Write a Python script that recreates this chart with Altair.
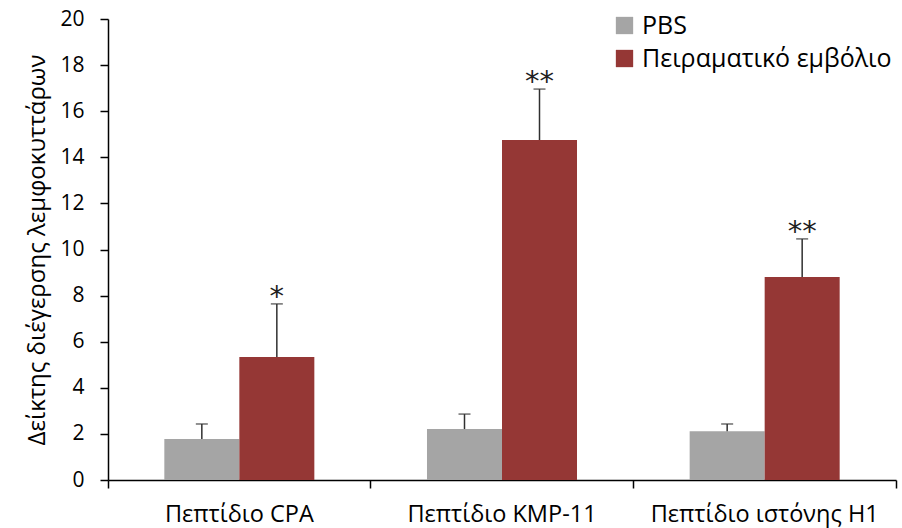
import altair as alt
import pandas as pd

# Lymphocyte stimulation index per peptide, control vs. experimental vaccine
categories = ["Πεπτίδιο CPA", "Πεπτίδιο KMP-11", "Πεπτίδιο ιστόνης H1"]
groups = ["PBS", "Πειραματικό εμβόλιο"]
pbs_mean = [1.78, 2.21, 2.12]
pbs_err = [0.65, 0.65, 0.31]
vac_mean = [5.34, 14.75, 8.81]
vac_err = [2.30, 2.21, 1.65]
vac_sig = ["*", "**", "**"]

rows = []
for i, cat in enumerate(categories):
    rows.append({"cat": cat, "group": groups[0], "mean": pbs_mean[i],
                 "top": pbs_mean[i] + pbs_err[i], "sig": ""})
    rows.append({"cat": cat, "group": groups[1], "mean": vac_mean[i],
                 "top": vac_mean[i] + vac_err[i], "sig": vac_sig[i]})
df = pd.DataFrame(rows)

FONT = "Open Sans"
W, H = 788, 461

x = alt.X("cat:N", sort=categories, title=None,
          scale=alt.Scale(paddingInner=0, paddingOuter=0),
          axis=alt.Axis(bandPosition=1, tickExtra=True,
                        labelAngle=0, labelFontSize=23.5, labelColor="#000000",
                        labelPadding=14, tickSize=8, tickColor="#000000",
                        domainColor="#000000", domainWidth=1.5, tickWidth=1.5,
                        labelLimit=300))
xoff = alt.XOffset("group:N", sort=groups,
                   scale=alt.Scale(paddingInner=0, paddingOuter=0.751))

base = alt.Chart(df).encode(x=x, xOffset=xoff)

bars = base.mark_bar().encode(
    y=alt.Y("mean:Q", title="Δείκτης διέγερσης λεμφοκυττάρων",
            scale=alt.Scale(domain=[0, 20], nice=False),
            axis=alt.Axis(values=list(range(0, 21, 2)), grid=False,
                          labelFontSize=21, labelColor="#000000", labelPadding=16,
                          tickSize=8, tickColor="#000000", tickWidth=1.5,
                          domainColor="#000000", domainWidth=1.5,
                          titleFontSize=24, titleFontWeight="normal",
                          titleColor="#000000", titlePadding=10)),
    color=alt.Color("group:N", sort=groups,
                    scale=alt.Scale(domain=groups, range=["#A5A5A5", "#953735"]),
                    legend=alt.Legend(title=None, orient="none", legendX=504,
                                      legendY=-6, symbolType="square",
                                      symbolSize=300, symbolStrokeWidth=0,
                                      labelFontSize=25, labelColor="#000000",
                                      labelLimit=400, rowPadding=7,
                                      labelOffset=5)),
)

err = base.mark_rule(color="#303030", strokeWidth=1.5).encode(
    y="mean:Q", y2="top:Q")

caps = base.mark_tick(color="#303030", thickness=1.5, size=12,
                      orient="horizontal").encode(y="top:Q")

stars = base.mark_text(fontSize=29, baseline="middle", dy=-7,
                       font="DejaVu Sans", color="#202020").encode(
    y="top:Q", text="sig:N")

chart = alt.layer(bars, err, caps, stars).properties(
    width=W, height=H,
    autosize=alt.AutoSizeParams(type="none"),
    padding={"left": 108, "top": 19, "right": 6, "bottom": 48},
).configure(font=FONT).configure_view(stroke=None)

chart.save("out.html", embed_options={"renderer": "svg", "actions": False})
